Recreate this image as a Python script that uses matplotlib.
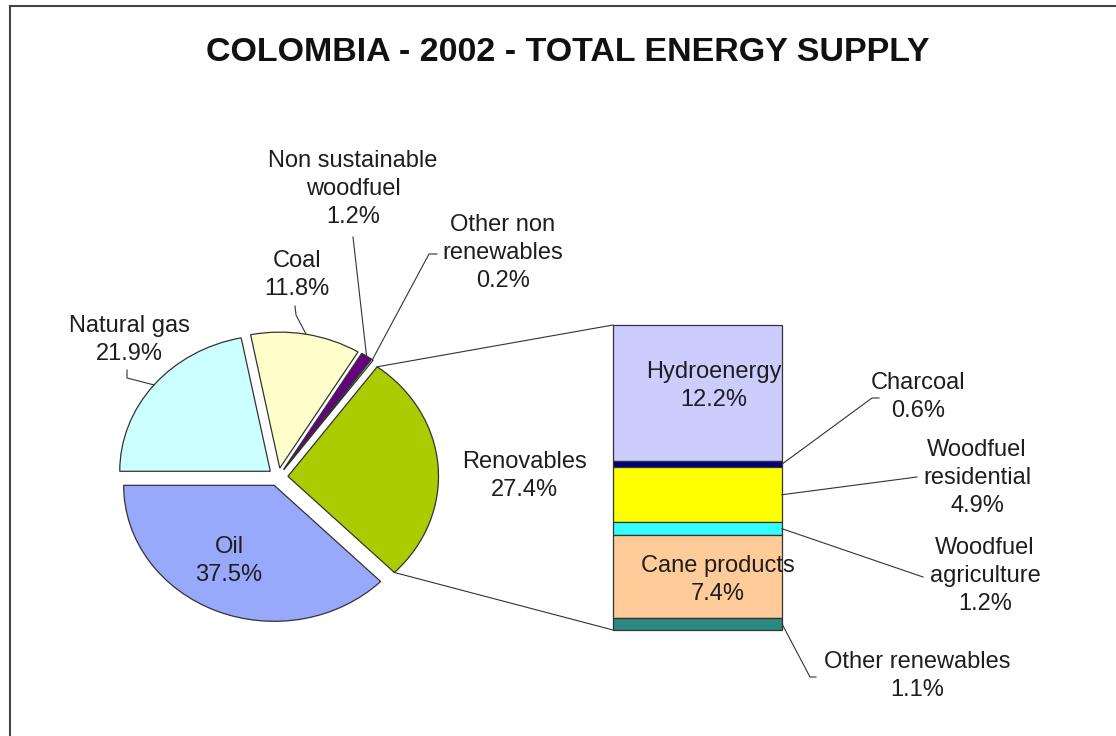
import numpy as np
import matplotlib
matplotlib.use('Agg')
import matplotlib.pyplot as plt
from matplotlib.lines import Line2D

plt.rcParams['font.family'] = ['Liberation Sans', 'DejaVu Sans']

title = 'COLOMBIA - 2002 - TOTAL ENERGY SUPPLY'

# total supply split (pie), starting at 9 o'clock, counter-clockwise
pie_labels = ['Oil', 'Renovables', 'Other non\nrenewables',
              'Non sustainable\nwoodfuel', 'Coal', 'Natural gas']
pie_values = [37.5, 27.4, 0.2, 1.2, 11.8, 21.9]
pie_colors = ['#98a8fb', '#aacc00', '#ccffcc', '#660080', '#ffffcc', '#ccffff']

# breakdown of the renewables, top to bottom
bar_labels = ['Hydroenergy', 'Charcoal', 'Woodfuel\nresidential',
              'Woodfuel\nagriculture', 'Cane products', 'Other renewables']
bar_values = [12.2, 0.6, 4.9, 1.2, 7.4, 1.1]
bar_colors = ['#ccccff', '#000080', '#ffff00', '#33ffff', '#ffcc99', '#2a8a80']

W, H = 1116, 736
SX = 1.107         # pie is drawn a little wider than tall
txt_col = '#1e1e1e'
line_col = '#333333'
fs = 17
lsp = 1.35

fig = plt.figure(figsize=(W / 100, H / 100), dpi=100)
ax = fig.add_axes([0, 0, 1, 1])


def P(x, y):
    # pixel position -> main axes data
    return (x / SX, H - y)


wedges, _ = ax.pie(pie_values, colors=pie_colors, startangle=180, counterclock=True,
                   center=P(278, 477), radius=136, explode=[9] * len(pie_values),
                   wedgeprops=dict(edgecolor=line_col, linewidth=0.9))
ax.set_xlim(0, W / SX)
ax.set_ylim(0, H)
ax.set_aspect('auto')
ax.axis('off')


def rim(w, ang=None):
    if ang is None:
        ang = (w.theta1 + w.theta2) / 2
    a = np.deg2rad(ang)
    return (w.center[0] + w.r * np.cos(a), w.center[1] + w.r * np.sin(a))


# stacked bar for the renewables
bx0, bx1, by0, by1 = 613, 782, 325, 630
bax = fig.add_axes([bx0 / W, (H - by1) / H, (bx1 - bx0) / W, (by1 - by0) / H])
total = sum(bar_values)
tops = total - np.concatenate([[0], np.cumsum(bar_values)[:-1]])
bottoms = tops - np.array(bar_values)
bax.bar(0, bar_values, width=1, bottom=bottoms, color=bar_colors,
        edgecolor=line_col, linewidth=0.9, clip_on=False)
bax.set_xlim(-0.5, 0.5)
bax.set_ylim(0, total)
bax.axis('off')

# keep the label layer above the bar
ax.set_zorder(bax.get_zorder() + 1)
ax.patch.set_visible(False)


def to_main(pt):
    return ax.transData.inverted().transform(bax.transData.transform(pt))


# lines joining the renewables slice to the bar
ren = wedges[1]
for ang, corner in [(ren.theta2, (-0.5, total)), (ren.theta1, (-0.5, 0))]:
    p0 = rim(ren, ang)
    p1 = to_main(corner)
    ax.plot([p0[0], p1[0]], [p0[1], p1[1]], color=line_col, lw=0.8)

# pie labels: text centre (px) and leader path (px) ending on the slice
pie_txt = {
    'Oil': ((229, 561), None),
    'Renovables': ((524, 476), None),
    'Other non\nrenewables': ((503, 253), [(437, 254), (429, 254)]),
    'Non sustainable\nwoodfuel': ((353, 189), [(353, 237)]),
    'Coal': ((297, 275), [(295, 306), (296, 315)]),
    'Natural gas': ((129, 340), [(127, 370), (127, 378)]),
}
for w, name, val in zip(wedges, pie_labels, pie_values):
    (tx, ty), path = pie_txt[name]
    ax.text(*P(tx, ty), f'{name}\n{val}%', ha='center', va='center',
            fontsize=fs, color=txt_col, linespacing=lsp)
    if path:
        pts = [P(*p) for p in path] + [rim(w)]
        ax.plot([p[0] for p in pts], [p[1] for p in pts], color=line_col, lw=0.8)

# bar labels
inside = {'Hydroenergy': (714, 386), 'Cane products': (718, 580)}
outside = {
    'Charcoal': ((918, 397), [(872, 398), (879, 398)]),
    'Woodfuel\nresidential': ((977, 478), [(917, 477)]),
    'Woodfuel\nagriculture': ((985, 576), [(923, 577)]),
    'Other renewables': ((917, 676), [(810, 677), (816, 677)]),
}
for name, val, b, top in zip(bar_labels, bar_values, bottoms, tops):
    label = f'{name}\n{val}%'
    if name in inside:
        ax.text(*P(*inside[name]), label, ha='center', va='center',
                fontsize=fs, color=txt_col, linespacing=lsp)
        continue
    (tx, ty), path = outside[name]
    ax.text(*P(tx, ty), label, ha='center', va='center',
            fontsize=fs, color=txt_col, linespacing=lsp)
    start = to_main((0.5, (b + top) / 2))
    pts = [start] + [P(*p) for p in path]
    ax.plot([p[0] for p in pts], [p[1] for p in pts], color=line_col, lw=0.8)

ax.text(*P(568, 61), title, ha='center', va='baseline', fontsize=24.5,
        fontweight='bold', color='#111111')

# frame edges
fig.add_artist(Line2D([9.5 / W, 9.5 / W], [0, 1 - 6 / H], transform=fig.transFigure,
                      color='#444444', lw=1.5))
fig.add_artist(Line2D([9.5 / W, 1], [1 - 6 / H, 1 - 6 / H], transform=fig.transFigure,
                      color='#444444', lw=1.5))

plt.savefig('out.png', dpi=100, facecolor='white')
